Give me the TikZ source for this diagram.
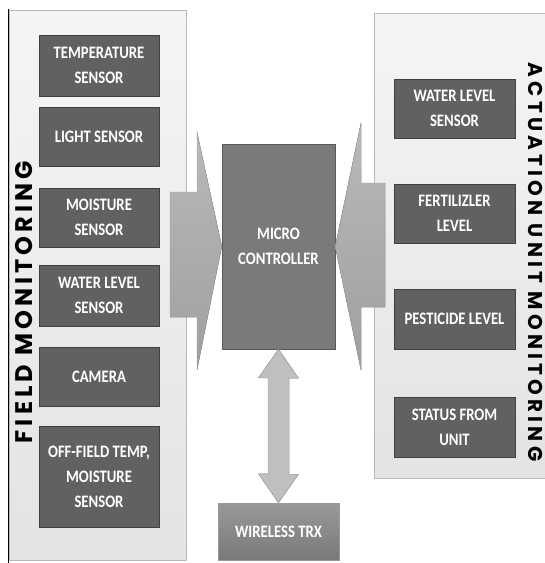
\documentclass[tikz,border=0pt]{standalone}
\usepackage{fontspec}
\newfontfamily\boxfont[FakeStretch=0.84]{Carlito}
\newfontfamily\fieldfont[LetterSpace=17]{Poppins}
\newfontfamily\unitfont[LetterSpace=21]{Poppins}
\usetikzlibrary{positioning,calc,shadows}

\begin{document}
\begin{tikzpicture}[x=1pt, y=-1pt,
  panel/.style={draw=gray!55, top color=gray!8, bottom color=gray!22, line width=0.6pt},
  sensor/.style={draw=black!75, fill=black!62, text=white, align=center, minimum width=120pt, minimum height=59pt, inner sep=2pt,
    font=\boxfont\bfseries\fontsize{17.5}{25}\selectfont, drop shadow={opacity=0.25, shadow xshift=1pt, shadow yshift=-1pt}},
  mcu/.style={sensor, fill=black!52, draw=black!65, minimum width=113pt, minimum height=205pt},
  trx/.style={sensor, draw=gray!80, top color=gray!80, bottom color=gray!95!black, minimum width=121pt, minimum height=57pt},
  side/.style={text=black, inner sep=0pt},
  flow/.style={draw=gray!75, top color=gray!55, bottom color=gray!75, line width=0.4pt}
]
\useasboundingbox (0,0) rectangle (545,563);

% panels
\fill[panel] (9,10) rectangle (186,560);
\draw[black, line width=1pt] (8,9) -- (8,563);
\fill[panel] (374,13) rectangle (550,478);
\node[side, rotate=90, font=\fieldfont\bfseries\fontsize{24}{24}\selectfont] (field) at (24,302) {FIELD MONITORING};
\node[side, rotate=-90, font=\unitfont\bfseries\fontsize{20}{20}\selectfont] (act) at (536,262) {ACTUATION UNIT MONITORING};

% field monitoring
\node[sensor, minimum height=61pt] (temp) at (99,65.5) {TEMPERATURE\\SENSOR};
\node[sensor] (light) at (99,136.5) {LIGHT SENSOR};
\node[sensor] (moist) at (99,217.5) {MOISTURE\\SENSOR};
\node[sensor, minimum height=61pt] (wlevel) at (99,295.5) {WATER LEVEL\\SENSOR};
\node[sensor] (camera) at (99,376.5) {CAMERA};
\node[sensor, minimum height=101pt] (offfield) at (99,476.5) {OFF-FIELD TEMP,\\MOISTURE\\SENSOR};

% actuation unit monitoring
\node[sensor, minimum width=121pt] (awlevel) at (454.5,108.5) {WATER LEVEL\\SENSOR};
\node[sensor, minimum width=121pt] (fert) at (454.5,213.5) {FERTILIZLER\\LEVEL};
\node[sensor, minimum width=121pt, minimum height=60pt] (pest) at (454.5,319) {PESTICIDE LEVEL};
\node[sensor, minimum width=121pt, minimum height=60pt] (status) at (454.5,427) {STATUS FROM\\UNIT};

% controller and radio
\node[mcu] (mc) at (278.5,246.5) {MICRO\\CONTROLLER};
\node[trx] (radio) at (278.5,531.5) {WIRELESS TRX};

% arrows
\fill[flow] (170,192) -- (197,192) -- (197,132) -- (mc.west) -- (197,370) -- (197,317) -- (170,317) -- cycle;
\fill[flow] (385,183) -- (361,183) -- (361,123) -- (mc.east) -- (361,370) -- (361,307) -- (385,307) -- cycle;
\fill[flow, top color=gray!50, bottom color=gray!50] (mc.south) -- ++(20,29) -- ++(-9.5,0) -- ++(0,96) -- ++(9.5,0)
  -- (radio.north) -- ++(-20,-29) -- ++(9.5,0) -- ++(0,-96) -- ++(-9.5,0) -- cycle;
\end{tikzpicture}
\end{document}
